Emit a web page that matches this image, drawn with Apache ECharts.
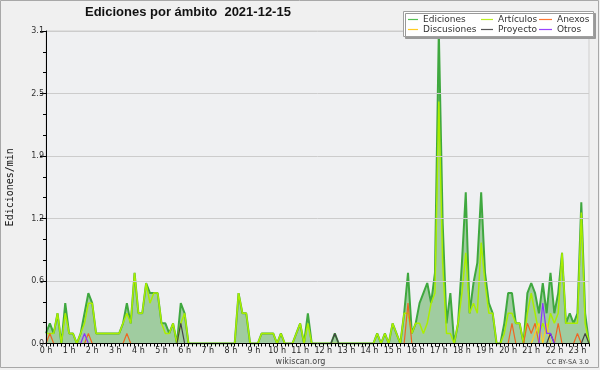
<!DOCTYPE html>
<html><head><meta charset="utf-8">
<script src="https://cdn.jsdelivr.net/npm/echarts@6/dist/echarts.min.js"></script>
<style>html,body{margin:0;padding:0;background:#f0f0f0}#c{width:600px;height:370px}</style>
</head><body><div id="c"></div>
<script>
// 10-minute slots from 0:00 to 23:30 (142 slots)
const categories = [];
for (let h = 0; h < 24; h++) for (let m = 0; m < 60; m += 10) {
  if (categories.length < 142) categories.push(h + ':' + (m === 0 ? '00' : m));
}
const yTicks = [0, 0.62, 1.24, 1.86, 2.48, 3.1];
const yTickLabels = ['0.0', '0.6', '1.2', '1.9', '2.5', '3.1'];

const ediciones = [
  0.1,0.2,0.1,0.3,0,0.4,0.1,0.1,0,0.1,
  0.3,0.5,0.4,0.1,0.1,0.1,0.1,0.1,0.1,0.1,
  0.2,0.4,0.2,0.7,0.3,0.3,0.6,0.5,0.5,0.5,
  0.2,0.2,0.1,0.2,0,0.4,0.3,0,0,0,
  0,0,0,0,0,0,0,0,0,0,
  0.5,0.3,0.3,0,0,0,0.1,0.1,0.1,0.1,
  0,0.1,0,0,0,0.1,0.2,0,0.3,0,
  0,0,0,0,0,0.1,0,0,0,0,
  0,0,0,0,0,0,0.1,0,0.1,0,
  0.2,0.1,0,0.3,0.7,0.1,0.2,0.4,0.5,0.6,
  0.4,0.7,3.1,1.2,0.2,0.5,0,0.2,0.8,1.5,
  0.3,0.6,0.8,1.5,0.7,0.4,0.3,0,0,0.2,
  0.5,0.5,0.2,0.2,0,0.5,0.6,0.5,0.3,0.6,
  0.3,0.7,0.3,0.5,0.9,0.2,0.3,0.2,0.3,1.4,
  0.3,0
];
const articulos = [
  0.1,0.1,0.1,0.3,0,0.3,0.1,0.1,0,0.1,
  0.2,0.4,0.4,0.1,0.1,0.1,0.1,0.1,0.1,0.1,
  0.2,0.3,0.2,0.7,0.3,0.3,0.6,0.4,0.5,0.5,
  0.2,0.1,0.1,0.2,0,0.2,0.3,0,0,0,
  0,0,0,0,0,0,0,0,0,0,
  0.5,0.3,0.3,0,0,0,0.1,0.1,0.1,0.1,
  0,0.1,0,0,0,0.1,0.2,0,0.2,0,
  0,0,0,0,0,0,0,0,0,0,
  0,0,0,0,0,0,0.1,0,0.1,0,
  0.2,0.1,0,0.3,0.3,0.1,0.2,0.2,0.1,0.2,
  0.4,0.5,2.4,0.8,0.1,0.1,0,0.2,0.5,0.9,
  0.3,0.4,0.3,1.0,0.6,0.3,0.3,0,0,0.1,
  0.3,0.3,0.2,0.2,0,0.3,0.5,0.3,0.1,0.2,
  0.1,0.3,0.2,0.3,0.9,0.2,0.2,0.2,0.2,1.3,
  0.2,0
];
const anexos = [
  0,0.1,0,0,0,0,0,0,0,0,
  0,0.1,0,0,0,0,0,0,0,0,
  0,0.1,0,0,0,0,0,0,0,0,
  0,0,0,0,0,0,0,0,0,0,
  0,0,0,0,0,0,0,0,0,0,
  0,0,0,0,0,0,0,0,0,0,
  0,0,0,0,0,0,0,0,0,0,
  0,0,0,0,0,0,0,0,0,0,
  0,0,0,0,0,0,0,0,0,0,
  0,0,0,0,0.4,0,0,0,0,0,
  0,0,0,0,0,0,0,0,0,0,
  0,0,0,0,0,0,0,0,0,0,
  0,0.2,0,0,0,0.2,0.1,0.2,0,0,
  0,0,0,0.2,0,0,0,0,0.1,0,
  0,0
];
const discusiones = [
  0,0,0,0,0,0,0,0,0,0,
  0,0,0,0,0,0,0,0,0,0,
  0,0,0,0,0,0,0,0,0,0,
  0,0,0,0,0,0,0,0,0,0,
  0,0,0,0,0,0,0,0,0,0,
  0,0,0,0,0,0,0,0,0,0,
  0,0,0,0,0,0,0,0,0,0,
  0,0,0,0,0,0,0,0,0,0,
  0,0,0,0,0,0,0,0,0,0,
  0,0,0,0,0,0,0,0,0,0,
  0,0,0,0,0,0,0,0,0,0,
  0,0,0,0,0,0,0,0,0,0,
  0,0,0,0,0,0,0,0.1,0.2,0,
  0.2,0,0,0,0,0,0,0,0,0,
  0,0
];
const proyecto = [
  0,0,0,0,0,0,0,0,0,0,
  0,0,0,0,0,0,0,0,0,0,
  0,0,0,0,0,0,0,0,0,0,
  0,0,0,0,0,0.2,0,0,0,0,
  0,0,0,0,0,0,0,0,0,0,
  0,0,0,0,0,0,0,0,0,0,
  0,0,0,0,0,0,0,0,0,0,
  0,0,0,0,0,0.1,0,0,0,0,
  0,0,0,0,0,0,0,0,0,0,
  0,0,0,0,0,0,0,0,0,0,
  0,0,0,0,0,0,0,0,0,0,
  0,0,0,0,0,0,0,0,0,0,
  0,0,0,0,0,0,0,0,0,0,
  0,0.1,0,0,0,0,0,0,0,0,
  0.1,0
];
const otros = [
  0,0,0,0,0,0,0,0,0,0,
  0.1,0,0,0,0,0,0,0,0,0,
  0,0,0,0,0,0,0,0,0,0,
  0,0,0,0,0,0,0,0,0,0,
  0,0,0,0,0,0,0,0,0,0,
  0,0,0,0,0,0,0,0,0,0,
  0,0,0,0,0,0,0,0,0,0,
  0,0,0,0,0,0,0,0,0,0,
  0,0,0,0,0,0,0,0,0,0,
  0,0,0,0,0,0,0,0,0,0,
  0,0,0,0,0,0,0,0,0,0,
  0,0,0,0,0,0,0,0,0,0,
  0,0,0,0,0,0,0,0,0,0.4,
  0.1,0.1,0,0,0,0,0,0,0,0,
  0,0
];

const FONT = 'DejaVu Sans';
const chart = echarts.init(document.getElementById('c'), null, {renderer: 'canvas'});

function lineSeries(name, data, color, width, z) {
  return {
    name, type: 'line', data, symbol: 'none', showSymbol: false, animation: false,
    lineStyle: {color, width}, itemStyle: {color}, z: z
  };
}

function legendItem(name, color, left, top, iw) {
  return {
    data: [{name, icon: 'rect', itemStyle: {color, borderWidth: 0}}],
    left, top, padding: 0, itemWidth: iw, itemHeight: 1.2, z: 20,
    selectedMode: false,
    textStyle: {fontFamily: FONT, fontSize: 9, color: '#333', lineHeight: 10}
  };
}

function yLabel(v) {
  let best = 0;
  for (let k = 1; k < yTicks.length; k++) {
    if (Math.abs(yTicks[k] - v) < Math.abs(yTicks[best] - v)) best = k;
  }
  return yTickLabels[best];
}

const option = {
  animation: false,
  backgroundColor: '#f0f0f0',
  title: {
    text: 'Ediciones por ámbito  2021-12-15',
    left: 85, top: 6, padding: 0,
    textStyle: {fontFamily: 'Liberation Sans', fontWeight: 'bold', fontSize: 13, color: '#111'}
  },
  grid: {left: 46, top: 31, right: 11, bottom: 26.5, show: true,
    outerBoundsMode: 'none', containLabel: false,
    backgroundColor: '#eff0f2', borderColor: '#cfcfcf', borderWidth: 1},
  legend: [
    legendItem('Ediciones', '#55c055', 408, 14.5, 10),
    legendItem('Artículos', '#bbee22', 481, 14.5, 12),
    legendItem('Anexos', '#ff7733', 539, 14.5, 13),
    legendItem('Discusiones', '#ffcc22', 408, 24.5, 10),
    legendItem('Proyecto', '#555555', 481, 24.5, 12),
    legendItem('Otros', '#9944ff', 539, 24.5, 13)
  ],
  xAxis: {
    type: 'category', data: categories, boundaryGap: false, z: 5,
    axisLine: {lineStyle: {color: '#000', width: 1}},
    axisTick: {interval: 0, length: 3, lineStyle: {color: '#000'}},
    axisLabel: {
      interval: 5, margin: 3, fontFamily: FONT, fontSize: 8, color: '#222',
      formatter: v => v.split(':')[0] + ' h'
    },
    splitLine: {show: false}
  },
  yAxis: {
    type: 'value', min: yTicks[0], max: yTicks[yTicks.length - 1], interval: yTicks[1], z: 5,
    name: 'Ediciones/min', nameLocation: 'middle', nameRotate: 90, nameGap: 31,
    nameTextStyle: {fontFamily: 'DejaVu Sans Mono', fontSize: 10, color: '#111'},
    axisLine: {show: true, lineStyle: {color: '#000', width: 1}},
    axisTick: {show: true, length: 6, lineStyle: {color: '#000'}},
    minorTick: {show: true, splitNumber: 3, length: 3, lineStyle: {color: '#000'}},
    axisLabel: {margin: 2, fontFamily: FONT, fontSize: 8, color: '#333', formatter: yLabel},
    splitLine: {show: true, lineStyle: {color: '#cccccc', width: 1}}
  },
  series: [
    Object.assign(lineSeries('Ediciones', ediciones, '#3fa83f', 2, 2),
      {areaStyle: {color: '#a0cca0', opacity: 1}}),
    lineSeries('Artículos', articulos, '#aaee00', 1.5, 3),
    lineSeries('Anexos', anexos, '#ee6622', 1.2, 3),
    lineSeries('Discusiones', discusiones, '#ffcc22', 1.2, 3),
    lineSeries('Proyecto', proyecto, '#444444', 1.2, 3),
    lineSeries('Otros', otros, '#8833ff', 1.2, 3)
  ],
  graphic: [
    {type: 'rect', z: 1, silent: true, shape: {x: 0.5, y: 0.5, width: 598, height: 367},
      style: {fill: 'none', stroke: '#a8a8a8', lineWidth: 1}},
    {type: 'rect', z: 15, silent: true, shape: {x: 403.5, y: 11.5, width: 190, height: 25},
      style: {fill: '#ffffff', stroke: '#a0a0a0', lineWidth: 1,
        shadowColor: '#999', shadowOffsetX: 2, shadowOffsetY: 2, shadowBlur: 0}},
    {type: 'text', z: 15, silent: true, x: 300.5, y: 361.5,
      style: {text: 'wikiscan.org', fontFamily: FONT, fontSize: 8, fill: '#444',
        textAlign: 'center', textVerticalAlign: 'middle'}},
    {type: 'text', z: 15, silent: true, x: 589, y: 362.5,
      style: {text: 'CC BY-SA 3.0', fontFamily: FONT, fontSize: 6.5, fill: '#444',
        textAlign: 'right', textVerticalAlign: 'middle'}}
  ]
};
chart.setOption(option);
</script>
</body></html>
